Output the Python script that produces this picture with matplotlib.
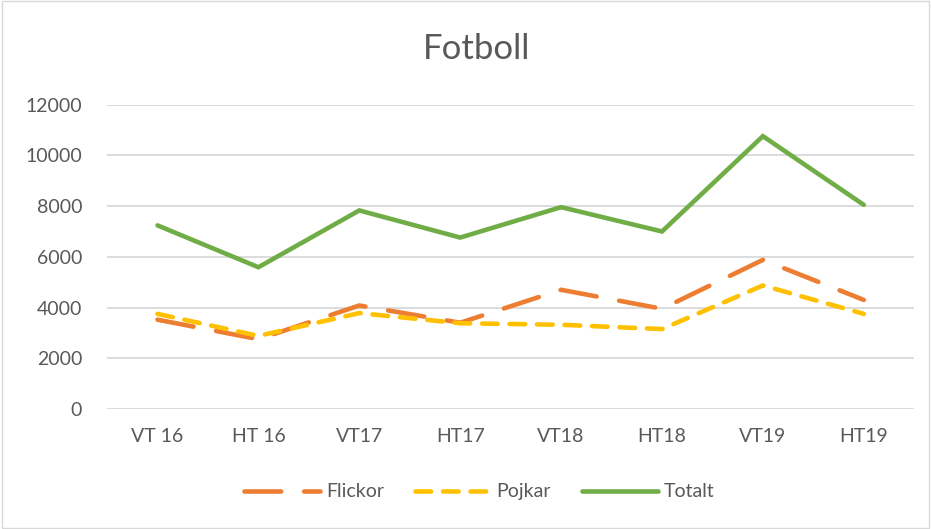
import matplotlib.pyplot as plt
from matplotlib.patches import Rectangle

# Data
periods = ['VT 16', 'HT 16', 'VT17', 'HT17', 'VT18', 'HT18', 'VT19', 'HT19']
flickor = [3520, 2750, 4080, 3400, 4700, 3950, 5880, 4300]
pojkar = [3750, 2880, 3780, 3380, 3320, 3150, 4870, 3750]
totalt = [7240, 5590, 7830, 6760, 7960, 7000, 10760, 8050]

plt.rcParams['font.family'] = ['Lato', 'DejaVu Sans']
grey = '#595959'

fig = plt.figure(figsize=(9.31, 5.29), dpi=100)
ax = fig.add_axes([0.115, 0.227, 0.867, 0.575])

x = range(len(periods))
lw = 3.3
ax.plot(x, flickor, color='#ED7D31', lw=lw, dashes=(8, 5),
        dash_capstyle='round', solid_capstyle='round', label='Flickor')
ax.plot(x, pojkar, color='#FFC000', lw=lw, dashes=(3.4, 2.6),
        dash_capstyle='round', label='Pojkar')
ax.plot(x, totalt, color='#70AD47', lw=lw, solid_capstyle='round',
        solid_joinstyle='miter', label='Totalt')

ax.set_xlim(-0.5, 7.5)
ax.set_ylim(0, 12000)
ax.set_yticks(range(0, 12001, 2000))
ax.set_xticks(list(x))
ax.set_xticklabels(periods)
ax.grid(axis='y', color='#D9D9D9', lw=1.3)
ax.set_axisbelow(True)
for s in ax.spines.values():
    s.set_visible(False)
ax.tick_params(length=0, labelsize=14, colors=grey, pad=18)
ax.tick_params(axis='x', pad=14)

fig.text(0.512, 0.907, 'Fotboll', ha='center', va='center', fontsize=25, color=grey)

fig.legend(loc='center', bbox_to_anchor=(0.515, 0.07), ncol=3, frameon=False,
           fontsize=14, labelcolor=grey, handlelength=3.9, columnspacing=1.6,
           handletextpad=0.3)

fig.patches.append(Rectangle((0.002, 0.002), 0.996, 0.996, transform=fig.transFigure,
                             fill=False, edgecolor='#D9D9D9', lw=1))

fig.savefig('out.png', dpi=100)
